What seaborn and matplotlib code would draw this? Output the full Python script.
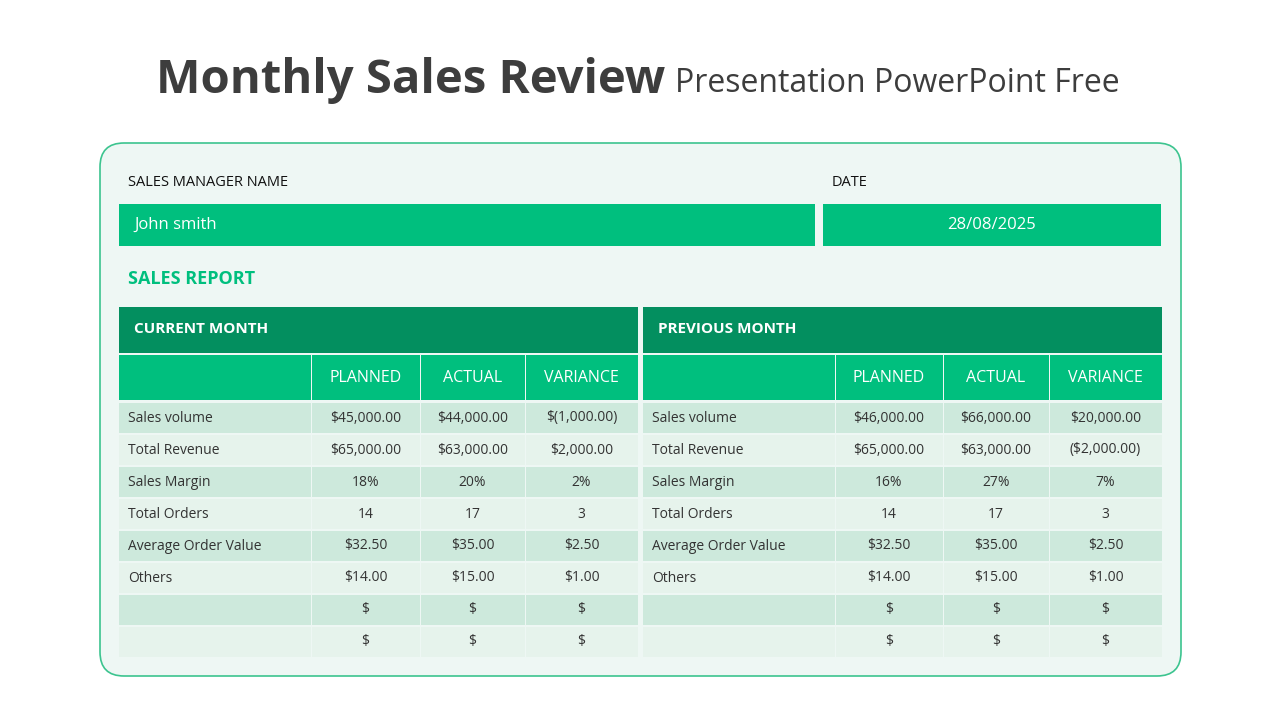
import matplotlib.pyplot as plt
from matplotlib.patches import FancyBboxPatch, Rectangle
import seaborn as sns

sns.set_theme(style="white")
plt.rcParams["font.family"] = "Open Sans"

# ------------------------------------------------------------------
# Data
# ------------------------------------------------------------------
manager_name = "John smith"
report_date = "28/08/2025"
columns = ["PLANNED", "ACTUAL", "VARIANCE"]
row_labels = ["Sales volume", "Total Revenue", "Sales Margin", "Total Orders",
              "Average Order Value", "Others", "", ""]
current_planned = ["$45,000.00", "$65,000.00", "18%", "14", "$32.50", "$14.00", "$", "$"]
current_actual = ["$44,000.00", "$63,000.00", "20%", "17", "$35.00", "$15.00", "$", "$"]
current_variance = ["$(1,000.00)", "$2,000.00", "2%", "3", "$2.50", "$1.00", "$", "$"]
previous_planned = ["$46,000.00", "$65,000.00", "16%", "14", "$32.50", "$14.00", "$", "$"]
previous_actual = ["$66,000.00", "$63,000.00", "27%", "17", "$35.00", "$15.00", "$", "$"]
previous_variance = ["$20,000.00", "($2,000.00)", "7%", "3", "$2.50", "$1.00", "$", "$"]

GREEN = "#00bf7e"
DARK = "#038f5f"
ROW_A = "#cde9dc"
ROW_B = "#e6f3ec"
TXT = "#333333"

fig = plt.figure(figsize=(12.8, 7.2), dpi=100)
ax = fig.add_axes([0, 0, 1, 1])
ax.set_xlim(0, 1280)
ax.set_ylim(720, 0)
ax.axis("off")

ax.text(665, 80, "Monthly Sales Review", ha="right", va="center",
        fontsize=34, fontweight="bold", color="#3d3d3d")
ax.text(675, 84, "Presentation PowerPoint Free", ha="left", va="center",
        fontsize=23, color="#3d3d3d")

ax.add_patch(FancyBboxPatch((100, 143), 1081, 533,
                            boxstyle="round,pad=0,rounding_size=24",
                            facecolor="#eef7f4", edgecolor="#3cc48f", lw=1.2))

ax.text(128, 183, "SALES MANAGER NAME", va="center", fontsize=10.5, color="#111")
ax.text(832, 183, "DATE", va="center", fontsize=10.5, color="#111")
ax.add_patch(Rectangle((119, 204), 696, 42, color=GREEN, lw=0))
ax.add_patch(Rectangle((823, 204), 338, 42, color=GREEN, lw=0))
ax.text(134, 225, manager_name, va="center", fontsize=12, color="white")
ax.text(992, 225, report_date, ha="center", va="center", fontsize=12, color="white")
ax.text(128, 279, "SALES REPORT", va="center", fontsize=13,
        fontweight="bold", color=GREEN)


def draw_table(x0, edges, title, planned, actual, variance):
    width = edges[-1] - edges[0]
    ax.add_patch(Rectangle((x0, 307), width, 46, color=DARK, lw=0))
    ax.text(x0 + 15, 329, title, va="center", fontsize=11,
            fontweight="bold", color="white")
    for i in range(4):
        ax.add_patch(Rectangle((edges[i] + (1 if i else 0), 355),
                               edges[i + 1] - edges[i] - (1 if i else 0), 45,
                               color=GREEN, lw=0))
    for i, c in enumerate(columns):
        xc = (edges[i + 1] + edges[i + 2]) / 2 if i else (edges[1] + edges[2]) / 2
        ax.text(xc, 378, c, ha="center", va="center", fontsize=11.5, color="white")
    for r, lab in enumerate(row_labels):
        y = 403 + r * 32
        col = ROW_A if r % 2 == 0 else ROW_B
        for i in range(4):
            ax.add_patch(Rectangle((edges[i] + (1 if i else 0), y),
                                   edges[i + 1] - edges[i] - (1 if i else 0), 30,
                                   color=col, lw=0))
        ax.text(x0 + 9, y + 15, lab, va="center", fontsize=10, color=TXT)
        for i, vals in enumerate([planned, actual, variance]):
            xc = (edges[i + 1] + edges[i + 2]) / 2
            ax.text(xc, y + 15, vals[r], ha="center", va="center",
                    fontsize=10, color=TXT)


draw_table(119, [119, 311, 420, 525, 638], "CURRENT MONTH",
           current_planned, current_actual, current_variance)
draw_table(643, [643, 835, 943, 1049, 1162], "PREVIOUS MONTH",
           previous_planned, previous_actual, previous_variance)

fig.savefig("out.png", dpi=100, facecolor="white")
